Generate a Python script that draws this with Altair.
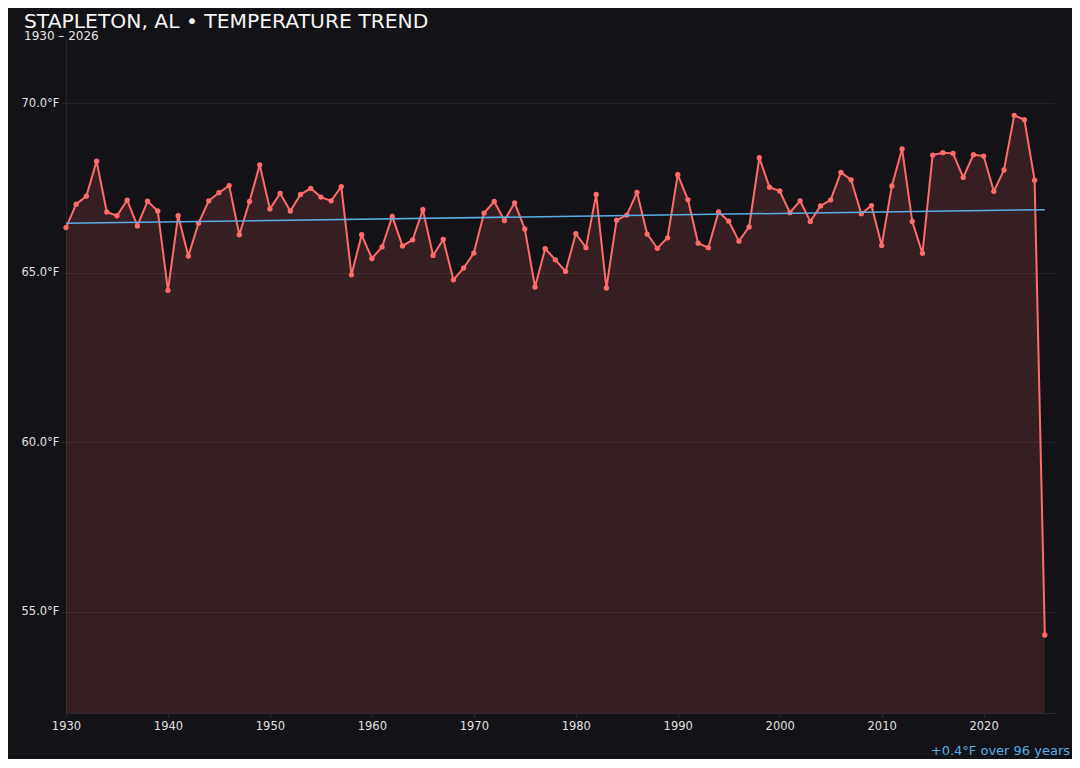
import altair as alt
import pandas as pd

years = list(range(1930, 2027))
temps = [
    66.33, 67.02, 67.26, 68.29, 66.79, 66.68, 67.14, 66.38, 67.11, 66.82,  # 1930s
    64.48, 66.68, 65.49, 66.46, 67.12, 67.36, 67.57, 66.12, 67.10, 68.18,  # 1940s
    66.88, 67.34, 66.82, 67.31, 67.49, 67.23, 67.12, 67.54, 64.94, 66.12,  # 1950s
    65.42, 65.76, 66.66, 65.79, 65.97, 66.86, 65.51, 65.98, 64.79, 65.14,  # 1960s
    65.58, 66.76, 67.10, 66.54, 67.06, 66.29, 64.58, 65.71, 65.38, 65.04,  # 1970s
    66.15, 65.74, 67.31, 64.55, 66.55, 66.70, 67.37, 66.14, 65.72, 66.03,  # 1980s
    67.89, 67.15, 65.87, 65.74, 66.79, 66.52, 65.93, 66.35, 68.39, 67.52,  # 1990s
    67.41, 66.77, 67.12, 66.51, 66.97, 67.15, 67.96, 67.74, 66.74, 66.98,  # 2000s
    65.80, 67.56, 68.65, 66.51, 65.57, 68.47, 68.54, 68.52, 67.81, 68.48,  # 2010s
    68.44, 67.40, 68.03, 69.64, 69.51, 67.73, 54.32,                       # 2020s
]
x_ticks = [1930, 1940, 1950, 1960, 1970, 1980, 1990, 2000, 2010, 2020]
y_ticks = [55, 60, 65, 70]
title_text = "STAPLETON, AL • TEMPERATURE TREND"
subtitle_text = "1930 – 2026"
note_text = "+0.4°F over 96 years"

df = pd.DataFrame({"year": years, "temp": temps})

BG = "#131217"
RED = "#ff6b6b"
BLUE = "#5dade2"
FONT = "DejaVu Sans"

x_enc = alt.X(
    "year:Q",
    scale=alt.Scale(domain=[1930, 2027], nice=False, zero=False),
    axis=alt.Axis(values=x_ticks, format="d", grid=False, title=None,
                  labelColor="#e0e0e0", labelFontSize=11.5, labelFont=FONT,
                  domainColor="#2a2a32", tickColor="#2a2a32", tickSize=4,
                  labelPadding=3, labelFlush=False),
)
y_enc = alt.Y(
    "temp:Q",
    scale=alt.Scale(domain=[52.02, 71.95], nice=False, zero=False),
    axis=alt.Axis(values=y_ticks, labelExpr="format(datum.value, '.1f') + '°F'",
                  grid=True, gridColor="#24202a", gridWidth=1, title=None,
                  labelColor="#e0e0e0", labelFontSize=11.5, labelFont=FONT,
                  domainColor="#26262e", tickColor="#2a2a32", tickSize=4,
                  labelPadding=3, labelFlush=False),
)

base = alt.Chart(df)

area = base.mark_area(color=RED, opacity=0.15, clip=True).encode(x=x_enc, y=y_enc)
line = base.mark_line(color=RED, strokeWidth=2,
                      point=alt.OverlayMarkDef(color=RED, size=28, filled=True, opacity=1)
                      ).encode(x="year:Q", y="temp:Q")
trend = base.transform_regression("year", "temp").mark_line(
    color=BLUE, strokeWidth=1.5).encode(x="year:Q", y="temp:Q")
note = alt.Chart(pd.DataFrame({"t": [note_text]})).mark_text(
    align="right", baseline="alphabetic", color=BLUE, fontSize=13, font=FONT
).encode(text="t:N", x=alt.value(1004), y=alt.value(718))

chart = alt.layer(area, line, trend, note).properties(
    width=989,
    height=676,
    background=BG,
    autosize=alt.AutoSizeParams(type="none"),
    padding={"left": 58, "top": 29, "right": 17, "bottom": 46},
    title=alt.TitleParams(
        text=title_text, subtitle=subtitle_text, anchor="start", frame="group",
        dx=-42, offset=-5, font=FONT, fontSize=20.3, fontWeight="normal",
        color="#f5f5f5", subtitleFont=FONT, subtitleFontSize=12,
        subtitleColor="#e6e6e6", subtitlePadding=-1,
    ),
).configure(background=BG).configure_view(stroke=None)

chart.save("out.html", embed_options={"renderer": "svg", "actions": False})
